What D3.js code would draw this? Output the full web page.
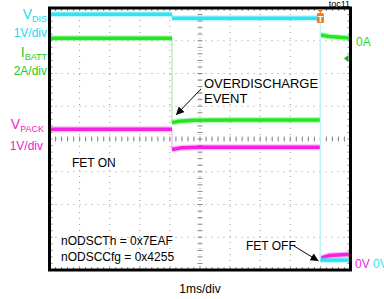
<!DOCTYPE html>
<html>
<head>
<meta charset="utf-8">
<script src="https://cdn.jsdelivr.net/npm/d3@7"></script>
<style>
body { margin: 0; background: #fff; }
svg { display: block; font-family: "Liberation Sans", Arial, sans-serif; }
</style>
</head>
<body>
<svg width="384" height="299"></svg>
<script>
// scope capture: time in ms (1ms/div), values in each channel's own unit
var timeDomain = [0, 10];
var divDomain = [-4, 4];

// each trace is a list of segments, steps between segments are drawn thin
var vdisSegs = [
  [[0, 7.57], [4.07, 7.57]],
  [[4.07, 7.45], [9.0, 7.45]],
  [[9.0, 0.06], [10, 0.06]]
];
var ibattSegs = [
  [[0, 0.12], [4.07, 0.12]],
  [[4.07, -5.04], [4.3, -4.96], [4.8, -4.9], [6, -4.88], [9.0, -4.88]],
  [[9.0, 0.31], [9.3, 0.22], [10, 0.12]]
];
var vpackSegs = [
  [[0, 4.06], [4.07, 4.06]],
  [[4.07, 3.44], [4.4, 3.49], [5, 3.51], [9.0, 3.51]],
  [[9.0, 0.12], [9.3, 0.2], [10, 0.24]]
];
var triggerTime = 9.0;
var triggerLevel = -1.12; // A, on IBATT

var svg = d3.select("svg");

var x = d3.scaleLinear().domain(timeDomain).range([49.5, 350.5]);
var y = d3.scaleLinear().domain(divDomain).range([270, 8]);

// channel settings: units per division and where zero sits (in divisions)
var ibattCh = { segs: ibattSegs, color: "#22e622", light: "#a4f0a4", perDiv: 2, zero: 3.02 };
var vpackCh = { segs: vpackSegs, color: "#f422e0", light: "#f8b0f0", perDiv: 1, zero: -3.76 };
var vdisCh = { segs: vdisSegs, color: "#30e4f4", light: "#bcf3f9", perDiv: 1, zero: -3.76 };
var channels = [ibattCh, vpackCh, vdisCh];

function chY(ch, v) { return y(v / ch.perDiv + ch.zero); }

// grid
var grid = svg.append("g");
grid.selectAll(".vg")
  .data(d3.range(1, 10))
  .enter().append("line")
  .attr("x1", function(d) { return x(d); })
  .attr("x2", function(d) { return x(d); })
  .attr("y1", y(4)).attr("y2", y(-4))
  .attr("stroke", "#999").attr("stroke-dasharray", "1,5");
grid.selectAll(".hg")
  .data(d3.range(-3, 4))
  .enter().append("line")
  .attr("y1", function(d) { return y(d); })
  .attr("y2", function(d) { return y(d); })
  .attr("x1", x(0)).attr("x2", x(10))
  .attr("stroke", "#999").attr("stroke-dasharray", "1,5");

// minor ticks on the centre lines and the border
var tx = d3.range(0.2, 10, 0.2);
var ty = d3.range(-3.8, 4, 0.2);
function xTicks(yPos, up, down) {
  grid.append("g").selectAll("line")
    .data(tx).enter().append("line")
    .attr("x1", function(d) { return x(d); })
    .attr("x2", function(d) { return x(d); })
    .attr("y1", yPos - up).attr("y2", yPos + down)
    .attr("stroke", "#888");
}
function yTicks(xPos, left, right) {
  grid.append("g").selectAll("line")
    .data(ty).enter().append("line")
    .attr("y1", function(d) { return y(d); })
    .attr("y2", function(d) { return y(d); })
    .attr("x1", xPos - left).attr("x2", xPos + right)
    .attr("stroke", "#888");
}
xTicks(y(0), 2.5, 2.5);
yTicks(x(5), 2.5, 2.5);
xTicks(y(-4), 3, 0);
xTicks(y(4), 0, 3);
yTicks(x(0), 0, 3);
yTicks(x(10), 3, 0);

// traces
var line = d3.line();
channels.forEach(function(ch) {
  function pt(p) { return [x(p[0]), chY(ch, p[1])]; }
  var g = svg.append("g");
  // steps between segments
  for (var i = 1; i < ch.segs.length; i++) {
    var a = ch.segs[i - 1][ch.segs[i - 1].length - 1];
    var b = ch.segs[i][0];
    g.append("path").attr("d", line([pt(a), pt(b)]))
      .attr("stroke", ch.light).attr("stroke-width", 1.2).attr("fill", "none");
  }
  ch.segs.forEach(function(s) {
    g.append("path").attr("d", line(s.map(pt)))
      .attr("stroke", ch.color).attr("stroke-width", 6).attr("opacity", 0.3)
      .attr("fill", "none");
    g.append("path").attr("d", line(s.map(pt)))
      .attr("stroke", ch.color).attr("stroke-width", 3.5).attr("fill", "none");
  });
});

// frame
svg.append("rect")
  .attr("x", x(0)).attr("y", y(4))
  .attr("width", x(10) - x(0)).attr("height", y(-4) - y(4))
  .attr("fill", "none").attr("stroke", "#000").attr("stroke-width", 3);

// trigger marker
var tX = x(triggerTime);
svg.append("path")
  .attr("d", "M" + (tX - 3.5) + ",9 L" + (tX + 3.5) + ",9 L" + tX + ",13 Z")
  .attr("fill", "#f07820");
svg.append("rect")
  .attr("x", tX - 3.5).attr("y", 13).attr("width", 7).attr("height", 10)
  .attr("rx", 1.5).attr("fill", "#f07820");
svg.append("text").attr("x", tX).attr("y", 21.5)
  .attr("text-anchor", "middle").attr("font-size", 9).attr("font-weight", "bold")
  .attr("fill", "#fff").text("T");

// trigger level marker
var lvY = chY(ibattCh, triggerLevel);
svg.append("path")
  .attr("d", "M344," + lvY + " L348.5," + (lvY - 3.5) + " L348.5," + (lvY + 3.5) + " Z")
  .attr("fill", "#1ea81e");

svg.append("text").attr("x", 350).attr("y", 7)
  .attr("text-anchor", "end").attr("font-size", 9).text("toc11");

// channel labels
function chLabel(xPos, yPos, big, sub, color) {
  var t = svg.append("text").attr("x", xPos).attr("y", yPos)
    .attr("text-anchor", "end").attr("fill", color);
  t.append("tspan").attr("font-size", 14).text(big);
  t.append("tspan").attr("font-size", 9).attr("dy", 3).text(sub);
}
chLabel(47, 19, "V", "DIS", "#22d8ef");
svg.append("text").attr("x", 47).attr("y", 36.5).attr("text-anchor", "end")
  .attr("font-size", 12).attr("fill", "#22d8ef").text("1V/div");
chLabel(47, 57, "I", "BATT", "#22cc22");
svg.append("text").attr("x", 47).attr("y", 75).attr("text-anchor", "end")
  .attr("font-size", 12).attr("fill", "#22cc22").text("2A/div");
chLabel(44, 129, "V", "PACK", "#ee22cc");
svg.append("text").attr("x", 43).attr("y", 150).attr("text-anchor", "end")
  .attr("font-size", 12).attr("fill", "#ee22cc").text("1V/div");

// zero markers on the right
svg.append("text").attr("x", 356).attr("y", chY(ibattCh, 0) + 5.5)
  .attr("font-size", 12).attr("fill", "#22dd22").text("0A");
var zt = svg.append("text").attr("x", 355).attr("y", chY(vdisCh, 0) + 5.5).attr("font-size", 12);
zt.append("tspan").attr("fill", "#f422e0").text("0V ");
zt.append("tspan").attr("fill", "#30e4f4").text("0V");

// annotations
var defs = svg.append("defs");
defs.append("marker").attr("id", "ah")
  .attr("viewBox", "0 0 10 10").attr("refX", 10).attr("refY", 5)
  .attr("markerWidth", 8).attr("markerHeight", 8)
  .attr("markerUnits", "userSpaceOnUse").attr("orient", "auto")
  .append("path").attr("d", "M0,0 L10,5 L0,10 Z").attr("fill", "#000");

svg.append("text").attr("x", 204).attr("y", 88).attr("font-size", 13).text("OVERDISCHARGE");
svg.append("text").attr("x", 204).attr("y", 103).attr("font-size", 13).text("EVENT");
svg.append("line").attr("x1", 201).attr("y1", 89).attr("x2", 176).attr("y2", 115)
  .attr("stroke", "#000").attr("marker-end", "url(#ah)");

svg.append("text").attr("x", 72).attr("y", 167).attr("font-size", 12).text("FET ON");
svg.append("text").attr("x", 61).attr("y", 245).attr("font-size", 12).text("nODSCTh = 0x7EAF");
svg.append("text").attr("x", 61).attr("y", 261).attr("font-size", 12).text("nODSCCfg = 0x4255");

svg.append("text").attr("x", 246).attr("y", 250).attr("font-size", 12).text("FET OFF");
svg.append("line").attr("x1", 294).attr("y1", 246).attr("x2", 318.5).attr("y2", 261)
  .attr("stroke", "#000").attr("marker-end", "url(#ah)");

svg.append("text").attr("x", 200).attr("y", 293)
  .attr("text-anchor", "middle").attr("font-size", 12).text("1ms/div");
</script>
</body>
</html>
